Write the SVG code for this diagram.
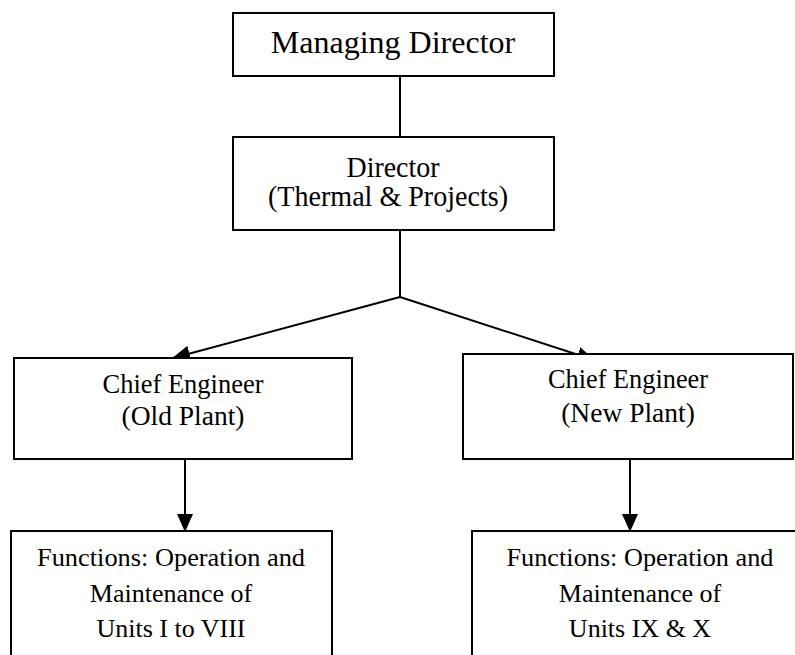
<svg xmlns="http://www.w3.org/2000/svg" width="795" height="655" viewBox="0 0 795 655">
<style>
.box{fill:#fff;stroke:#000;stroke-width:2}
.ln{fill:none;stroke:#000;stroke-width:2}
text{font-family:"Liberation Serif","Times New Roman",serif;fill:#000;text-anchor:middle}
.t32{font-size:32px}
.t28{font-size:29px}
.t27{font-size:27.5px}
.t26{font-size:26px}
</style>
<defs>
<marker id="ah" markerUnits="userSpaceOnUse" markerWidth="18" markerHeight="16" refX="17" refY="8" orient="auto" viewBox="0 0 18 16">
<path d="M0,0 L18,8 L0,16 z" fill="#000"/>
</marker>
</defs>
<g id="connectors">
<line class="ln" x1="400" y1="76" x2="400" y2="137"/>
<polyline class="ln" points="400,230 400,297"/>
<line class="ln" x1="400" y1="297" x2="173" y2="358" marker-end="url(#ah)"/>
<line class="ln" x1="400" y1="297" x2="594" y2="360" marker-end="url(#ah)"/>
<line class="ln" x1="185" y1="459" x2="185" y2="531" marker-end="url(#ah)"/>
<line class="ln" x1="630" y1="459" x2="630" y2="531" marker-end="url(#ah)"/>
</g>
<g id="managing-director">
<rect class="box" x="233" y="13" width="321" height="63"/>
<text class="t32" x="393" y="53">Managing Director</text>
</g>
<g id="director">
<rect class="box" x="233" y="137" width="321" height="93"/>
<text class="t28" x="393" y="177" textLength="93" lengthAdjust="spacingAndGlyphs">Director</text>
<text class="t28" x="388" y="206" textLength="240" lengthAdjust="spacingAndGlyphs">(Thermal &amp; Projects)</text>
</g>
<g id="ce-old">
<rect class="box" x="14" y="358" width="338" height="101"/>
<text class="t27" x="183" y="393" textLength="161" lengthAdjust="spacingAndGlyphs">Chief Engineer</text>
<text class="t27" x="183" y="425">(Old Plant)</text>
</g>
<g id="ce-new">
<rect class="box" x="463" y="354" width="330" height="105"/>
<text class="t27" x="628" y="388" textLength="160" lengthAdjust="spacingAndGlyphs">Chief Engineer</text>
<text class="t27" x="628" y="422">(New Plant)</text>
</g>
<g id="func-old">
<path class="ln" d="M11,660 L11,531 L332,531 L332,660"/>
<text class="t26" x="171" y="566" textLength="268" lengthAdjust="spacingAndGlyphs">Functions: Operation and</text>
<text class="t26" x="171" y="602">Maintenance of</text>
<text class="t26" x="171" y="637">Units I to VIII</text>
</g>
<g id="func-new">
<path class="ln" d="M472,660 L472,531 L800,531"/>
<text class="t26" x="640" y="566" textLength="267" lengthAdjust="spacingAndGlyphs">Functions: Operation and</text>
<text class="t26" x="640" y="602">Maintenance of</text>
<text class="t26" x="640" y="637">Units IX &amp; X</text>
</g>
</svg>
